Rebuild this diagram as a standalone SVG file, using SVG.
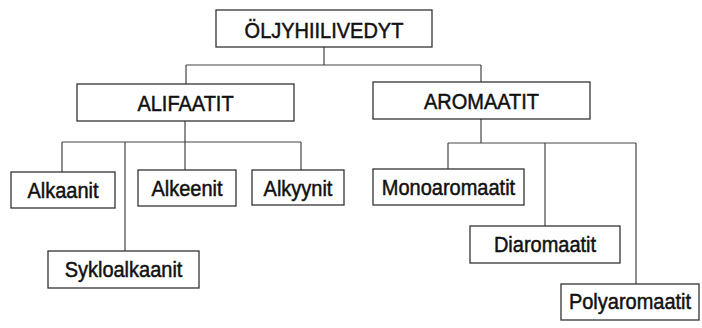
<svg xmlns="http://www.w3.org/2000/svg" width="702" height="328" viewBox="0 0 702 328">
<style>
.box{fill:#fff;stroke:#333;stroke-width:1.3}
.lbl{font-family:"Liberation Sans",Arial,sans-serif;font-size:20px;fill:#111;stroke:#111;stroke-width:0.45;text-anchor:middle}
.ln{fill:none;stroke:#444;stroke-width:1.2}
</style>
<rect width="702" height="328" fill="#fff"/>
<g id="connectors" class="ln">
<path d="M324,47V65M186,65H481M186,65V84M481,65V82"/>
<path d="M185,121V142M62,142H301M62,142V172M185,142V170M301,142V170M125,142V251"/>
<path d="M481,119V143M448,143H636M448,143V169M545,143V226M636,143V284"/>
</g>
<g id="oljyhiilivedyt"><rect class="box" x="216" y="10" width="216" height="37"/><text class="lbl" transform="translate(324,37.5) scale(1,1.06)">ÖLJYHIILIVEDYT</text></g>
<g id="alifaatit"><rect class="box" x="77" y="84" width="217" height="37"/><text class="lbl" transform="translate(185.5,110.5) scale(1,1.08)">ALIFAATIT</text></g>
<g id="aromaatit"><rect class="box" x="373" y="82" width="217" height="37"/><text class="lbl" transform="translate(481.5,108.5) scale(1,1.08)">AROMAATIT</text></g>
<g id="alkaanit"><rect class="box" x="11" y="172" width="104" height="36"/><text class="lbl" transform="translate(63,198) scale(1,1.08)">Alkaanit</text></g>
<g id="alkeenit"><rect class="box" x="138" y="170" width="98" height="36"/><text class="lbl" transform="translate(187,196) scale(1,1.08)">Alkeenit</text></g>
<g id="alkyynit"><rect class="box" x="252" y="170" width="92" height="35"/><text class="lbl" transform="translate(298,196) scale(1,1.08)">Alkyynit</text></g>
<g id="sykloalkaanit"><rect class="box" x="48" y="251" width="151" height="37"/><text class="lbl" transform="translate(123.5,277) scale(1,1.08)">Sykloalkaanit</text></g>
<g id="monoaromaatit"><rect class="box" x="373" y="169" width="151" height="36"/><text class="lbl" transform="translate(448.5,195) scale(1,1.08)">Monoaromaatit</text></g>
<g id="diaromaatit"><rect class="box" x="470" y="226" width="150" height="37"/><text class="lbl" transform="translate(545,252) scale(1,1.08)">Diaromaatit</text></g>
<g id="polyaromaatit"><rect class="box" x="561" y="284" width="138" height="36"/><text class="lbl" transform="translate(630,309) scale(1,1.08)">Polyaromaatit</text></g>
</svg>
